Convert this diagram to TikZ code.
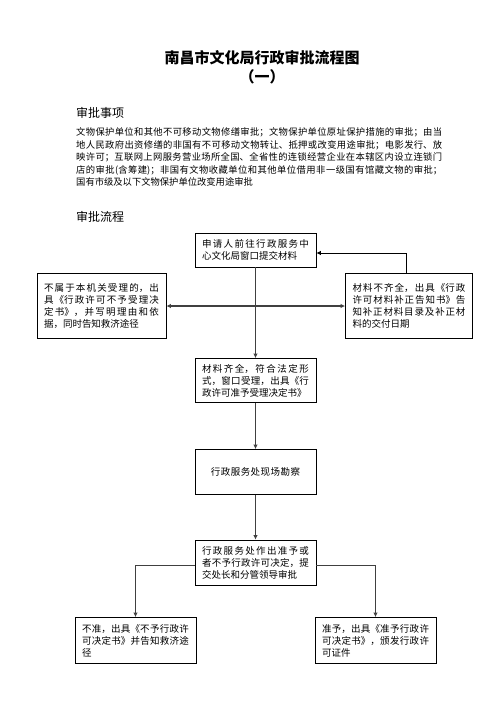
\documentclass[tikz,border=0pt]{standalone}
\usepackage{fontspec}
\setmainfont{Noto Sans CJK SC}
\usetikzlibrary{arrows.meta}
\XeTeXlinebreaklocale "zh"
\XeTeXlinebreakskip=0pt plus 1pt

\begin{document}
\begin{tikzpicture}[x=1pt, y=-1pt,
  bx/.style={draw=black, line width=0.8pt, inner xsep=7pt, inner ysep=3pt, align=justify, font=\fontsize{9.5}{12}\selectfont},
  ar/.style={draw=black!75, line width=1.4pt, -{Latex[length=4.5pt,width=4.5pt]}},
  fb/.style={draw=black, line width=0.7pt, -{Latex[length=4.5pt,width=4.5pt]}},
  hd/.style={anchor=west, inner sep=0pt, font=\fontsize{12}{14}\selectfont}]
\useasboundingbox (0,0) rectangle (496,702);
\node[font=\fontsize{15}{17}\selectfont\bfseries] (t1) at (262,58) {南昌市文化局行政审批流程图};
\node[font=\fontsize{15}{17}\selectfont\bfseries] (t2) at (262,77) {（一）};
\node[hd] (h1) at (76,113) {审批事项};
\node[anchor=west, inner sep=0pt, text width=366pt, align=justify, font=\fontsize{9.3}{12.5}\selectfont] (p1) at (76,157)
  {文物保护单位和其他不可移动文物修缮审批；文物保护单位原址保护措施的审批；由当\linebreak
   地人民政府出资修缮的非国有不可移动文物转让、抵押或改变用途审批；电影发行、放\linebreak
   映许可；互联网上网服务营业场所全国、全省性的连锁经营企业在本辖区内设立连锁门\linebreak
   店的审批(含筹建)；非国有文物收藏单位和其他单位借用非一级国有馆藏文物的审批；\linebreak
   国有市级及以下文物保护单位改变用途审批};
\node[hd] (h2) at (76,217) {审批流程};
% boxes
\node[bx, text width=107pt, minimum height=34pt] (b1) at (255.5,250)
  {\parfillskip=0pt 申请人前往行政服务中\linebreak 心文化局窗口提交材料};
\node[bx, text width=115pt, minimum height=65pt] (b2) at (101.5,305.5)
  {不属于本机关受理的，出\linebreak 具《行政许可不予受理决\linebreak 定书》，并写明理由和依\linebreak 据，同时告知救济途径};
\node[bx, text width=113pt, minimum height=65pt] (b3) at (409,305.5)
  {材料不齐全，出具《行政\linebreak 许可材料补正告知书》告\linebreak 知补正材料目录及补正材\linebreak 料的交付日期};
\node[bx, text width=107pt, minimum height=44pt] (b4) at (255.5,380.5)
  {\parfillskip=0pt 材料齐全，符合法定形\linebreak 式，窗口受理，出具《行\linebreak 政许可准予受理决定书》};
\node[bx, align=center, text width=107pt, minimum height=45pt] (b5) at (255.5,472) {行政服务处现场勘察};
\node[bx, text width=107pt, minimum height=45pt] (b6) at (255.5,562.5)
  {\parfillskip=0pt 行政服务处作出准予或\linebreak 者不予行政许可决定，提\linebreak 交处长和分管领导审批};
\node[bx, text width=107pt, minimum height=46pt] (b7) at (135.5,640.5)
  {不准，出具《不予行政许\linebreak 可决定书》并告知救济途\linebreak 径};
\node[bx, text width=107pt, minimum height=46pt] (b8) at (375.5,640.5)
  {准予，出具《准予行政许\linebreak 可决定书》，颁发行政许\linebreak 可证件};
% connectors
\coordinate (j1) at (255.5,306);
\draw[ar] (b1)--(b4); \draw[ar] (j1)--(j1 -| b2.east); \draw[ar] (j1)--(j1 -| b3.west);
\draw[fb] ([xshift=-3pt]b3.north) |- ([yshift=-3pt]b1.east);
\draw[ar] (b4)--(b5); \draw[ar] (b5)--(b6);
\draw[ar] ([yshift=-3pt]b6.west) -| (b7.north); \draw[ar] ([yshift=-3pt]b6.east) -| (b8.north);
\end{tikzpicture}
\end{document}
